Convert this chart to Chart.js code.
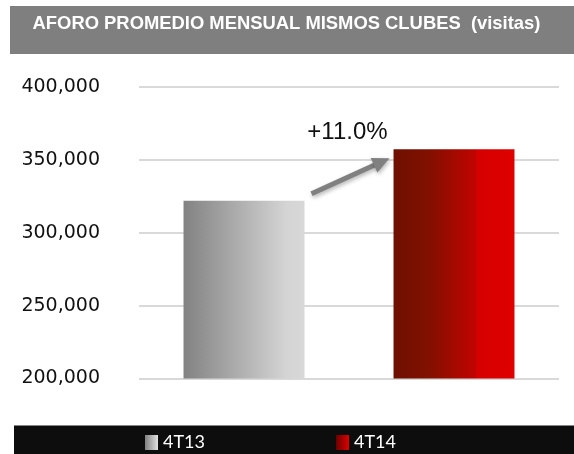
<!DOCTYPE html>
<html>
<head>
<meta charset="utf-8">
<script src="https://cdn.jsdelivr.net/npm/chart.js@4/dist/chart.umd.min.js"></script>
<style>
  html, body { margin: 0; padding: 0; background: #fff; overflow: hidden; }
  #wrap { width: 574px; height: 454px; }
</style>
</head>
<body>
<div id="wrap"><canvas id="chart-canvas"></canvas></div>
<script>
// data
const categories = ['4T13', '4T14'];
const visits_4t13 = [322000, null];
const visits_4t14 = [null, 357400];
const y_ticks = [200000, 250000, 300000, 350000, 400000];
const title_text = 'AFORO PROMEDIO MENSUAL MISMOS CLUBES  (visitas)';

const BAR_PCT = 0.576;
const grayStops = [[0, '#828282'], [0.85, '#d4d4d4'], [1, '#d8d8d8']];
const redStops = [[0, '#6e1000'], [0.3, '#821000'], [0.68, '#c00400'], [0.69, '#d60000'], [1, '#df0000']];

// gradient across the width of one bar, placed through the x scale
function barFill(stops) {
    return function(ctx) {
        const c = ctx.chart;
        if (ctx.dataIndex === undefined || !c.chartArea || !c.scales.x) return stops[0][1];
        const x = c.scales.x;
        const cx = x.getPixelForValue(ctx.dataIndex);
        const half = (x.width / categories.length) * BAR_PCT / 2;
        const g = c.ctx.createLinearGradient(cx - half, 0, cx + half, 0);
        stops.forEach(s => g.addColorStop(s[0], s[1]));
        return g;
    };
}

// small legend swatch, drawn at the right end of a wider transparent image
function swatch(stops) {
    const cv = document.createElement('canvas');
    cv.width = 140; cv.height = 15;
    const c = cv.getContext('2d');
    const g = c.createLinearGradient(127, 0, 140, 0);
    g.addColorStop(0, stops[0][1]);
    g.addColorStop(1, stops[stops.length - 1][1]);
    c.fillStyle = g;
    c.fillRect(127, 0, 13, 15);
    return cv;
}
const swatches = [swatch([[0, '#808080'], [1, '#e2e2e2']]), swatch([[0, '#6a0000'], [1, '#e00000']])];

// grey title band and black legend band
const bands = {
    id: 'bands',
    beforeDraw(chart) {
        const ctx = chart.ctx;
        ctx.save();
        ctx.fillStyle = '#7f7f7f';
        ctx.fillRect(10, 6, chart.width - 10, 48);
        ctx.fillStyle = '#0d0d0d';
        ctx.fillRect(14, chart.legend.top, chart.width - 14, chart.height - chart.legend.top);
        ctx.restore();
    }
};

// growth arrow between the two bar tops
const growth = {
    id: 'growth',
    afterDatasetsDraw(chart) {
        const a = chart.getDatasetMeta(0).data[0];
        const b = chart.getDatasetMeta(1).data[1];
        if (!a || !b) return;
        const x0 = a.x + a.width / 2 + 7, y0 = a.y - 7;
        const x1 = b.x - b.width / 2 - 4, y1 = b.y + 9;
        const ang = Math.atan2(y1 - y0, x1 - x0);
        const ctx = chart.ctx;
        ctx.save();
        ctx.shadowColor = 'rgba(0,0,0,0.3)';
        ctx.shadowBlur = 4;
        ctx.shadowOffsetX = 1;
        ctx.shadowOffsetY = 2;
        ctx.strokeStyle = '#808080';
        ctx.fillStyle = '#808080';
        ctx.lineWidth = 5;
        ctx.beginPath();
        ctx.moveTo(x0, y0);
        ctx.lineTo(x1 - 14 * Math.cos(ang), y1 - 14 * Math.sin(ang));
        ctx.stroke();
        ctx.beginPath();
        ctx.moveTo(x1, y1);
        ctx.lineTo(x1 - 17 * Math.cos(ang) + 8 * Math.sin(ang), y1 - 17 * Math.sin(ang) - 8 * Math.cos(ang));
        ctx.lineTo(x1 - 17 * Math.cos(ang) - 8 * Math.sin(ang), y1 - 17 * Math.sin(ang) + 8 * Math.cos(ang));
        ctx.closePath();
        ctx.fill();
        ctx.restore();

        const pct = (visits_4t14[1] / visits_4t13[0] - 1) * 100;
        ctx.save();
        ctx.fillStyle = '#111';
        ctx.font = '24px "Liberation Sans", Arial, sans-serif';
        ctx.textAlign = 'center';
        ctx.textBaseline = 'middle';
        ctx.fillText('+' + pct.toFixed(1) + '%', (x0 + x1) / 2 - 3, b.y - 17);
        ctx.restore();
    }
};

document.addEventListener('DOMContentLoaded', function() {
    const ctx = document.getElementById('chart-canvas');
    new Chart(ctx, {
        type: 'bar',
        data: {
            labels: categories,
            datasets: [
                {
                    label: '4T13',
                    data: visits_4t13,
                    backgroundColor: barFill(grayStops),
                    borderWidth: 0
                },
                {
                    label: '4T14',
                    data: visits_4t14,
                    backgroundColor: barFill(redStops),
                    borderWidth: 0
                }
            ]
        },
        options: {
            responsive: true,
            maintainAspectRatio: false,
            animation: false,
            grouped: false,
            barPercentage: BAR_PCT,
            categoryPercentage: 1,
            layout: {
                padding: { left: 14, right: 15, top: 0, bottom: -7.5 }
            },
            plugins: {
                tooltip: { enabled: false },
                title: {
                    display: true,
                    text: title_text,
                    color: '#fff',
                    align: 'center',
                    font: { family: '"Liberation Sans", Arial, sans-serif', size: 18.4, weight: 'bold' },
                    padding: { top: 13, bottom: 52 }
                },
                legend: {
                    display: true,
                    position: 'bottom',
                    align: 'start',
                    labels: {
                        color: '#fff',
                        font: { family: 'Lato, sans-serif', size: 18 },
                        padding: 8,
                        usePointStyle: true,
                        pointStyleWidth: 132,
                        generateLabels: (chart) => chart.data.datasets.map((ds, i) => ({
                            text: ds.label,
                            datasetIndex: i,
                            pointStyle: swatches[i],
                            fillStyle: 'transparent',
                            strokeStyle: 'transparent',
                            lineWidth: 0,
                            fontColor: '#fff',
                            hidden: false
                        }))
                    }
                }
            },
            scales: {
                x: {
                    display: true,
                    grid: { display: false },
                    border: { display: false },
                    ticks: { display: false },
                    afterFit: (s) => { s.height = 47; }
                },
                y: {
                    min: y_ticks[0],
                    max: y_ticks[y_ticks.length - 1],
                    afterFit: (s) => { s.width = 125; },
                    afterBuildTicks: (s) => { s.ticks = y_ticks.map(v => ({ value: v })); },
                    border: { display: false },
                    grid: { color: '#d9d9d9', lineWidth: 2, drawTicks: false },
                    ticks: {
                        color: '#111',
                        padding: 39,
                        font: { family: '"DejaVu Sans", sans-serif', size: 19 },
                        callback: (val) => val.toLocaleString('en-US')
                    }
                }
            }
        },
        plugins: [bands, growth]
    });
});
</script>
</body>
</html>
